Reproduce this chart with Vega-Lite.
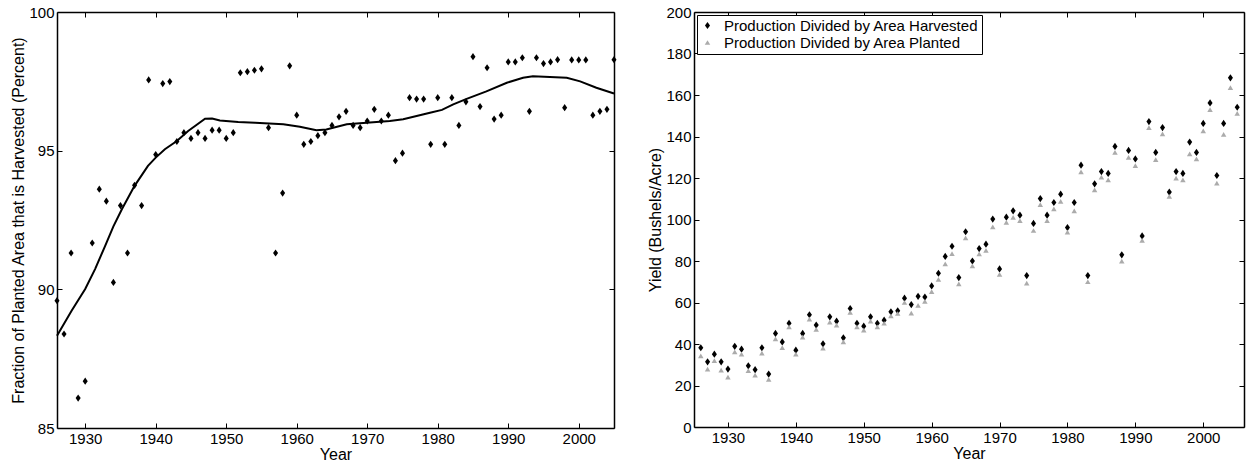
{
  "$schema": "https://vega.github.io/schema/vega-lite/v6.json",
  "background": "white",
  "autosize": {"type": "pad"},
  "padding": {"left": 10, "top": 5, "right": 4, "bottom": 4},
  "spacing": 80,
  "bounds": "flush",
  "resolve": {"legend": {"color": "independent", "shape": "independent", "size": "independent"}},
  "config": {
    "font": "Liberation Sans",
    "view": {"stroke": null},
    "axis": {
      "labelFont": "Liberation Sans", "labelFontSize": 15, "labelColor": "black",
      "titleFont": "Liberation Sans", "titleFontSize": 16, "titleFontWeight": "normal", "titleColor": "black",
      "domainColor": "black", "domainWidth": 1.5, "tickColor": "black", "tickWidth": 1, "tickSize": -5,
      "grid": false, "labelPadding": 8, "labelFlush": false, "labelOverlap": false
    },
    "legend": {
      "labelFont": "Liberation Sans", "labelFontSize": 15, "labelColor": "black", "labelLimit": 0
    }
  },
  "datasets": {
    "frac": [
      {"year":1926,"pct":89.59},{"year":1927,"pct":88.39},{"year":1928,"pct":91.31},{"year":1929,"pct":86.08},{"year":1930,"pct":86.69},
      {"year":1931,"pct":91.67},{"year":1932,"pct":93.61},{"year":1933,"pct":93.18},{"year":1934,"pct":90.25},{"year":1935,"pct":93.02},
      {"year":1936,"pct":91.31},{"year":1937,"pct":93.75},{"year":1938,"pct":93.02},{"year":1939,"pct":97.55},{"year":1940,"pct":94.86},
      {"year":1941,"pct":97.42},{"year":1942,"pct":97.49},{"year":1943,"pct":95.33},{"year":1944,"pct":95.65},{"year":1945,"pct":95.44},
      {"year":1946,"pct":95.65},{"year":1947,"pct":95.44},{"year":1948,"pct":95.74},{"year":1949,"pct":95.74},{"year":1950,"pct":95.44},
      {"year":1951,"pct":95.65},{"year":1952,"pct":97.81},{"year":1953,"pct":97.85},{"year":1954,"pct":97.90},{"year":1955,"pct":97.95},
      {"year":1956,"pct":95.83},{"year":1957,"pct":91.31},{"year":1958,"pct":93.47},{"year":1959,"pct":98.06},{"year":1960,"pct":96.28},
      {"year":1961,"pct":95.23},{"year":1962,"pct":95.33},{"year":1963,"pct":95.54},{"year":1964,"pct":95.65},{"year":1965,"pct":95.91},
      {"year":1966,"pct":96.22},{"year":1967,"pct":96.42},{"year":1968,"pct":95.91},{"year":1969,"pct":95.83},{"year":1970,"pct":96.07},
      {"year":1971,"pct":96.49},{"year":1972,"pct":96.07},{"year":1973,"pct":96.28},{"year":1974,"pct":94.64},{"year":1975,"pct":94.91},
      {"year":1976,"pct":96.91},{"year":1977,"pct":96.86},{"year":1978,"pct":96.86},{"year":1979,"pct":95.23},{"year":1980,"pct":96.91},
      {"year":1981,"pct":95.23},{"year":1982,"pct":96.91},{"year":1983,"pct":95.91},{"year":1984,"pct":96.76},{"year":1985,"pct":98.39},
      {"year":1986,"pct":96.59},{"year":1987,"pct":97.99},{"year":1988,"pct":96.14},{"year":1989,"pct":96.28},{"year":1990,"pct":98.20},
      {"year":1991,"pct":98.20},{"year":1992,"pct":98.35},{"year":1993,"pct":96.42},{"year":1994,"pct":98.35},{"year":1995,"pct":98.14},
      {"year":1996,"pct":98.20},{"year":1997,"pct":98.28},{"year":1998,"pct":96.55},{"year":1999,"pct":98.27},{"year":2000,"pct":98.27},
      {"year":2001,"pct":98.27},{"year":2002,"pct":96.28},{"year":2003,"pct":96.42},{"year":2004,"pct":96.49},{"year":2005,"pct":98.28}
    ],
    "curve": [
      {"year":1926,"pct":88.33},{"year":1928.07,"pct":89.23},{"year":1930,"pct":90.01},{"year":1931.4,"pct":90.73},{"year":1932.8,"pct":91.55},
      {"year":1934,"pct":92.27},{"year":1935.2,"pct":92.89},{"year":1937,"pct":93.73},{"year":1938.9,"pct":94.45},{"year":1940,"pct":94.75},
      {"year":1941.3,"pct":95.05},{"year":1943,"pct":95.35},{"year":1944.6,"pct":95.71},{"year":1947,"pct":96.15},{"year":1948,"pct":96.16},
      {"year":1949.1,"pct":96.09},{"year":1951.7,"pct":96.03},{"year":1954.1,"pct":96.01},{"year":1958.1,"pct":95.95},{"year":1960.45,"pct":95.86},
      {"year":1962.8,"pct":95.74},{"year":1964.2,"pct":95.76},{"year":1967.1,"pct":95.95},{"year":1969.9,"pct":96.01},{"year":1973.2,"pct":96.07},
      {"year":1975.1,"pct":96.13},{"year":1977,"pct":96.25},{"year":1978.9,"pct":96.37},{"year":1980.6,"pct":96.47},{"year":1982.2,"pct":96.67},
      {"year":1984.1,"pct":96.87},{"year":1986.9,"pct":97.14},{"year":1989.8,"pct":97.45},{"year":1992.1,"pct":97.63},{"year":1993.5,"pct":97.68},
      {"year":1995.9,"pct":97.66},{"year":1998.3,"pct":97.63},{"year":2000.2,"pct":97.50},{"year":2002.5,"pct":97.27},{"year":2005,"pct":97.06}
    ],
    "yield": [
      {"year":1926,"harvested":38.2,"planted":34.3},{"year":1927,"harvested":31.4,"planted":27.9},{"year":1928,"harvested":35.1,"planted":32.0},
      {"year":1929,"harvested":31.4,"planted":27.4},{"year":1930,"harvested":27.9,"planted":24.0},{"year":1931,"harvested":38.9,"planted":36.2},
      {"year":1932,"harvested":37.5,"planted":35.1},{"year":1933,"harvested":29.5,"planted":27.2},{"year":1934,"harvested":27.6,"planted":25.0},
      {"year":1935,"harvested":38.2,"planted":35.6},{"year":1936,"harvested":25.5,"planted":23.0},{"year":1937,"harvested":45.1,"planted":42.5},
      {"year":1938,"harvested":41.0,"planted":38.3},{"year":1939,"harvested":50.0,"planted":48.3},{"year":1940,"harvested":37.0,"planted":35.1},
      {"year":1941,"harvested":45.1,"planted":43.3},{"year":1942,"harvested":54.1,"planted":52.0},{"year":1943,"harvested":49.1,"planted":47.0},
      {"year":1944,"harvested":40.1,"planted":38.0},{"year":1945,"harvested":53.1,"planted":50.5},{"year":1946,"harvested":51.0,"planted":49.1},
      {"year":1947,"harvested":43.0,"planted":41.0},{"year":1948,"harvested":57.1,"planted":55.2},{"year":1949,"harvested":50.0,"planted":48.2},
      {"year":1950,"harvested":48.6,"planted":46.7},{"year":1951,"harvested":53.1,"planted":51.0},{"year":1952,"harvested":50.0,"planted":48.2},
      {"year":1953,"harvested":51.5,"planted":50.0},{"year":1954,"harvested":55.5,"planted":53.6},{"year":1955,"harvested":56.0,"planted":54.7},
      {"year":1956,"harvested":62.1,"planted":60.0},{"year":1957,"harvested":59.0,"planted":54.9},{"year":1958,"harvested":63.0,"planted":58.6},
      {"year":1959,"harvested":62.6,"planted":60.6},{"year":1960,"harvested":68.0,"planted":65.2},{"year":1961,"harvested":74.1,"planted":71.1},
      {"year":1962,"harvested":82.2,"planted":78.6},{"year":1963,"harvested":87.1,"planted":83.5},{"year":1964,"harvested":72.0,"planted":69.0},
      {"year":1965,"harvested":94.1,"planted":91.2},{"year":1966,"harvested":80.0,"planted":77.6},{"year":1967,"harvested":86.0,"planted":83.4},
      {"year":1968,"harvested":88.1,"planted":85.1},{"year":1969,"harvested":100.2,"planted":96.5},{"year":1970,"harvested":76.2,"planted":73.5},
      {"year":1971,"harvested":101.1,"planted":98.6},{"year":1972,"harvested":104.2,"planted":101.0},{"year":1973,"harvested":102.1,"planted":99.5},
      {"year":1974,"harvested":73.0,"planted":69.3},{"year":1975,"harvested":98.1,"planted":94.7},{"year":1976,"harvested":110.1,"planted":107.2},
      {"year":1977,"harvested":102.1,"planted":99.5},{"year":1978,"harvested":108.2,"planted":105.1},{"year":1979,"harvested":112.2,"planted":108.7},
      {"year":1980,"harvested":96.1,"planted":93.9},{"year":1981,"harvested":108.2,"planted":104.2},{"year":1982,"harvested":126.2,"planted":123.0},
      {"year":1983,"harvested":73.0,"planted":70.0},{"year":1984,"harvested":117.2,"planted":114.3},{"year":1985,"harvested":123.1,"planted":120.4},
      {"year":1986,"harvested":122.2,"planted":119.1},{"year":1987,"harvested":135.2,"planted":132.3},{"year":1988,"harvested":83.0,"planted":79.9},
      {"year":1989,"harvested":133.3,"planted":129.9},{"year":1990,"harvested":129.2,"planted":126.0},{"year":1991,"harvested":92.1,"planted":89.9},
      {"year":1992,"harvested":147.2,"planted":144.3},{"year":1993,"harvested":132.3,"planted":128.8},{"year":1994,"harvested":144.3,"planted":141.3},
      {"year":1995,"harvested":113.2,"planted":111.1},{"year":1996,"harvested":123.1,"planted":119.9},{"year":1997,"harvested":122.2,"planted":119.1},
      {"year":1998,"harvested":137.3,"planted":131.6},{"year":1999,"harvested":132.3,"planted":129.2},{"year":2000,"harvested":146.3,"planted":142.7},
      {"year":2001,"harvested":156.2,"planted":153.0},{"year":2002,"harvested":121.2,"planted":117.5},{"year":2003,"harvested":146.3,"planted":141.0},
      {"year":2004,"harvested":168.3,"planted":163.6},{"year":2005,"harvested":154.1,"planted":151.1}
    ]
  },
  "hconcat": [
    {
      "width": 557,
      "height": 416,
      "layer": [
        {
          "data": {"name": "frac"},
          "mark": {"type": "point", "shape": "M0,-1L0.7,0L0,1L-0.7,0Z", "filled": true, "color": "black", "opacity": 1, "size": 52},
          "encoding": {
            "x": {"field": "year", "type": "quantitative", "scale": {"domain": [1926, 2005], "nice": false, "zero": false},
                  "axis": {"values": [1930, 1940, 1950, 1960, 1970, 1980, 1990, 2000], "format": "d", "title": "Year", "titlePadding": 0}},
            "y": {"field": "pct", "type": "quantitative", "scale": {"domain": [85, 100], "nice": false, "zero": false},
                  "axis": {"values": [85, 90, 95, 100], "title": "Fraction of Planted Area that is Harvested (Percent)", "titlePadding": 2}}
          }
        },
        {
          "data": {"name": "curve"},
          "mark": {"type": "line", "color": "black", "strokeWidth": 2},
          "encoding": {
            "x": {"field": "year", "type": "quantitative",
                  "axis": {"orient": "top", "values": [1930, 1940, 1950, 1960, 1970, 1980, 1990, 2000], "labels": false, "title": null}},
            "y": {"field": "pct", "type": "quantitative",
                  "axis": {"orient": "right", "values": [85, 90, 95, 100], "labels": false, "title": null}}
          }
        }
      ],
      "resolve": {"axis": {"x": "independent", "y": "independent"}}
    },
    {
      "width": 550,
      "height": 415,
      "data": {"name": "yield"},
      "transform": [{"fold": ["harvested", "planted"], "as": ["series", "value"]}],
      "layer": [
        {
          "mark": {"type": "point", "filled": true, "opacity": 1},
          "encoding": {
            "x": {"field": "year", "type": "quantitative", "scale": {"domain": [1925, 2006], "nice": false, "zero": false},
                  "axis": {"values": [1930, 1940, 1950, 1960, 1970, 1980, 1990, 2000], "format": "d", "title": "Year", "titlePadding": 0}},
            "y": {"field": "value", "type": "quantitative", "scale": {"domain": [0, 200], "nice": false},
                  "axis": {"values": [0, 20, 40, 60, 80, 100, 120, 140, 160, 180, 200], "title": "Yield (Bushels/Acre)", "titlePadding": 2}},
            "color": {"field": "series", "type": "nominal",
                      "scale": {"domain": ["harvested", "planted"], "range": ["black", "#ababab"]},
                      "legend": {"orient": "top-left", "offset": 3, "title": null, "strokeColor": "black", "fillColor": "white",
                                 "padding": 3, "rowPadding": 1, "labelOffset": 9, "symbolSize": 30, "symbolStrokeWidth": 0, "labelLimit": 0,
                                 "labelExpr": "datum.label == 'harvested' ? 'Production Divided by Area Harvested' : 'Production Divided by Area Planted'"}},
            "shape": {"field": "series", "type": "nominal",
                      "scale": {"domain": ["harvested", "planted"], "range": ["M0,-1L0.7,0L0,1L-0.7,0Z", "triangle-up"]}},
            "size": {"field": "series", "type": "nominal",
                     "scale": {"domain": ["harvested", "planted"], "range": [52, 30]}, "legend": null}
          }
        },
        {
          "mark": {"type": "point", "opacity": 0},
          "encoding": {
            "x": {"field": "year", "type": "quantitative",
                  "axis": {"orient": "top", "values": [1930, 1940, 1950, 1960, 1970, 1980, 1990, 2000], "labels": false, "title": null}},
            "y": {"field": "value", "type": "quantitative",
                  "axis": {"orient": "right", "values": [0, 20, 40, 60, 80, 100, 120, 140, 160, 180, 200], "labels": false, "title": null}}
          }
        }
      ],
      "resolve": {"axis": {"x": "independent", "y": "independent"}}
    }
  ]
}
